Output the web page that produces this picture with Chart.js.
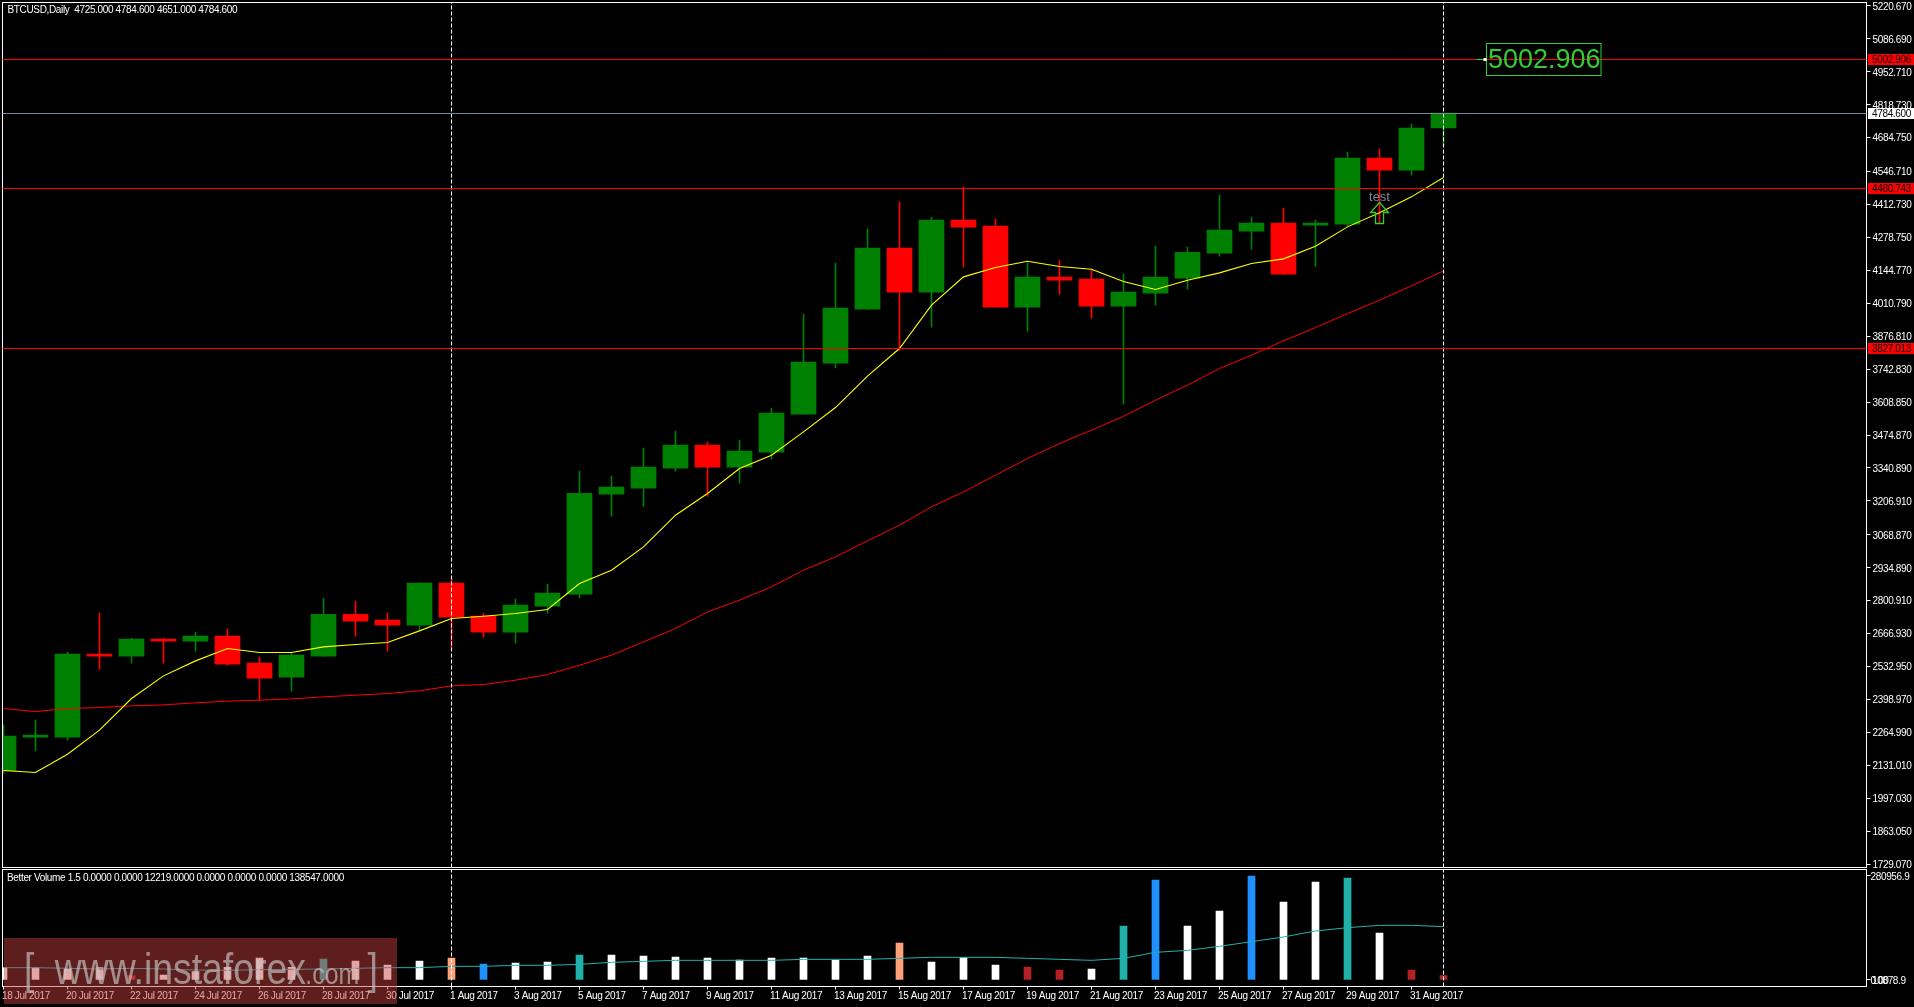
<!DOCTYPE html>
<html>
<head>
<meta charset="utf-8">
<title>BTCUSD Daily</title>
<script src="https://cdn.jsdelivr.net/npm/chart.js@4"></script>
<style>
  html, body { margin: 0; padding: 0; background: #000; overflow: hidden; }
  canvas { position: absolute; left: 0; top: 0; }
</style>
</head>
<body>
<canvas id="priceChart" width="1914" height="1007"></canvas>
<canvas id="volumeChart" width="1914" height="1007"></canvas>
<script>
// values
const opens = [2108.5,2245.5,2245.5,2583.2,2575.0,2644.2,2636.1,2656.4,2546.6,2489.6,2575.0,2745.9,2721.5,2701.2,2872.1,2737.8,2672.7,2778.5,2827.3,3234.2,3258.6,3340.0,3433.6,3344.1,3405.1,3559.7,3767.2,3986.9,4235.1,4056.1,4349.1,4324.6,3995.1,4117.1,4109.0,3999.1,4052.0,4113.1,4214.8,4304.3,4336.9,4328.7,4332.8,4601.3,4552.5,4725.0];
const highs = [2294.3,2314.7,2591.3,2750.0,2648.3,2648.3,2672.7,2684.9,2571.0,2587.3,2811.0,2798.8,2750.0,2872.1,2891.0,2750.0,2807.0,2868.0,3327.8,3307.4,3421.4,3490.5,3445.8,3453.9,3584.1,3966.6,4174.1,4312.4,4422.3,4361.3,4483.3,4353.1,4174.1,4186.3,4145.6,4129.3,4243.3,4239.2,4450.8,4361.3,4397.9,4349.1,4625.7,4638.0,4739.7,4784.6];
const lows = [2097.6,2189.9,2233.3,2522.1,2546.6,2546.6,2595.4,2538.4,2396.0,2432.6,2575.0,2656.4,2595.4,2680.8,2607.6,2652.4,2627.9,2750.0,2812.4,3144.7,3185.4,3327.8,3226.1,3279.0,3376.6,3559.7,3748.2,3986.9,3820.1,3913.7,4157.8,3995.1,3897.4,4048.0,3950.3,3600.4,4003.2,4068.3,4202.6,4231.0,4129.3,4161.9,4324.6,4335.5,4532.2,4651.0];
const closes = [2249.6,2253.6,2583.2,2575.0,2644.2,2636.1,2656.4,2542.5,2485.5,2579.1,2745.9,2717.5,2701.2,2872.1,2733.7,2672.7,2782.6,2831.4,3238.2,3262.7,3344.1,3433.6,3344.1,3409.2,3563.8,3771.3,3991.0,4235.1,4056.1,4349.1,4320.6,3995.1,4117.1,4104.9,3999.1,4056.1,4117.1,4218.8,4308.4,4336.9,4129.3,4336.9,4601.3,4552.5,4723.4,4784.6];
const fastMa = [2109.9,2101.7,2176.3,2274.0,2402.8,2495.0,2556.0,2606.3,2590.0,2590.0,2613.0,2622.5,2630.7,2678.1,2728.3,2737.8,2748.6,2764.9,2870.7,2924.9,3019.9,3148.7,3236.9,3338.6,3392.9,3487.8,3586.8,3714.3,3826.9,4003.2,4118.5,4156.5,4182.2,4160.5,4149.7,4099.5,4067.0,4104.9,4134.8,4172.7,4191.7,4243.3,4321.9,4378.9,4444.0,4522.7];
const slowMa = [2362.1,2349.9,2362.1,2366.2,2373.0,2377.0,2385.2,2392.0,2396.0,2401.4,2409.6,2416.4,2423.2,2434.0,2454.3,2459.8,2477.4,2500.4,2538.4,2579.1,2633.4,2687.6,2755.4,2802.9,2857.2,2925.0,2979.2,3044.3,3108.1,3182.6,3243.7,3311.5,3379.3,3440.3,3495.0,3551.5,3616.7,3677.7,3745.5,3799.8,3858.1,3912.3,3969.3,4023.5,4081.9,4142.9];
const volumes = [33319,33319,29717,33319,11707,13508,22513,34219,59433,34219,56732,51329,40523,51329,59433,43224,45926,48627,67538,67538,64836,62135,59433,54030,59433,59433,54030,64836,99956,48627,60334,40523,35120,27015,29717,145881,270150,145881,186404,280956,210717,264747,275553,126971,27015,12219];
const volumeKinds = ['normal','normal','normal','normal','low','normal','normal','normal','normal','normal','churn','normal','normal','normal','salmon','climax','normal','normal','churn','normal','normal','normal','normal','normal','normal','normal','normal','normal','salmon','normal','normal','normal','low','low','normal','churn','climax','normal','normal','climax','normal','normal','churn','normal','low','low'];
const volumeMa = [33319,33319,31518,29717,31518,29717,27015,26115,27916,28816,29717,31518,33319,33319,36921,36921,39622,39622,42324,47727,50428,53130,53130,53130,53130,55831,55831,55831,58533,61234,61234,61234,58533,55831,53130,58533,74742,80145,90951,103558,116165,132374,141379,147682,147682,144080];

const dateTicks = ['18 Jul 2017','20 Jul 2017','22 Jul 2017','24 Jul 2017','26 Jul 2017','28 Jul 2017','30 Jul 2017','1 Aug 2017','3 Aug 2017','5 Aug 2017','7 Aug 2017','9 Aug 2017','11 Aug 2017','13 Aug 2017','15 Aug 2017','17 Aug 2017','19 Aug 2017','21 Aug 2017','23 Aug 2017','25 Aug 2017','27 Aug 2017','29 Aug 2017','31 Aug 2017'];
const priceTicks = [5220.670,5086.690,4952.710,4818.730,4684.750,4546.710,4412.730,4278.750,4144.770,4010.790,3876.810,3742.830,3608.850,3474.870,3340.890,3206.910,3068.870,2934.890,2800.910,2666.930,2532.950,2398.970,2264.990,2131.010,1997.030,1863.050,1729.070];
const volumeTicks = [280956.9,0];
const priceLevels = [5002.906,4784.600,4480.743,3827.013];
const markedBars = [14,45];

const TEXT_FONT = '10px "Liberation Sans"';
const kindColors = { normal:'#ffffff', low:'#b22222', churn:'#20b2aa', climax:'#1e90ff', salmon:'#ffa07a' };
const levelColors = ['#ff0000','#778899','#ff0000','#ff0000'];
const tagFills = ['#ff0000','#ffffff','#ff0000','#ff0000'];

const xMin = -1 / 32, xMax = 1863 / 32;
const priceMin = 1715.3, priceMax = 5234.8;
const volMin = -17560, volMax = 298516;
const idx = closes.map((c, i) => i);

function upDown(i) {
  return closes[i] >= opens[i] ? '#008000' : '#ff0000';
}

// pixel row centre for a horizontal level
function levelRow(scale, value) {
  return Math.round(scale.getPixelForValue(value) - 0.3) + 0.5;
}

function xScale(show) {
  return {
    type: 'linear', display: show, min: xMin, max: xMax, offset: false,
    grid: { offset: false, drawOnChartArea: false, drawTicks: true, tickLength: 3, tickColor: '#fff' },
    border: { display: false },
    afterBuildTicks: s => { s.ticks = dateTicks.map((d, i) => ({ value: i * 2 })); },
    afterFit: s => { s.height = show ? 20.5 : 0; s.paddingLeft = 0; s.paddingRight = 0; },
    ticks: {
      autoSkip: false, maxRotation: 0, align: 'start', padding: 1, labelOffset: -1.5, color: '#fff', font: { family: 'Liberation Sans', size: 10 },
      callback: v => dateTicks[v / 2]
    }
  };
}

function yScale(min, max, values, fmt, pad) {
  return {
    type: 'linear', position: 'right', min: min, max: max,
    grid: { drawOnChartArea: false, drawTicks: true, tickLength: 4, tickColor: '#fff' },
    border: { display: false },
    afterBuildTicks: s => { s.ticks = values.map(v => ({ value: v })); },
    // labels may stick out of the panel, the plot area must not shrink for them
    afterFit: s => { s.width = 47.5; s.paddingTop = 0; s.paddingBottom = 0; },
    ticks: { autoSkip: false, padding: pad, labelOffset: 1, color: '#fff', font: { family: 'Liberation Sans', size: 10 }, callback: fmt }
  };
}

function vline(i, lo, hi) {
  return {
    type: 'line', order: 1, data: [{ x: i, y: lo }, { x: i, y: hi }],
    borderColor: '#fff', borderWidth: 1, borderDash: [4, 2], pointRadius: 0
  };
}

const frame = {
  id: 'frame',
  beforeDraw(chart) {
    // the terminal font is tighter than Liberation Sans at this height
    chart.ctx.letterSpacing = '-0.35px';
  },
  afterDraw(chart) {
    const a = chart.chartArea, c = chart.ctx;
    c.save();
    c.strokeStyle = '#fff';
    c.lineWidth = 1;
    c.strokeRect(a.left, a.top, a.right - a.left, a.bottom - a.top);
    c.restore();
  }
};

const priceNotes = {
  id: 'priceNotes',
  afterDraw(chart) {
    const c = chart.ctx, x = chart.scales.x, y = chart.scales.y, a = chart.chartArea;
    c.save();

    // horizontal levels, snapped to a pixel row so they stay sharp
    priceLevels.forEach((lv, i) => {
      const py = levelRow(y, lv);
      c.strokeStyle = levelColors[i];
      c.lineWidth = 1;
      c.beginPath();
      c.moveTo(a.left, py);
      c.lineTo(a.right, py);
      c.stroke();
    });

    c.font = TEXT_FONT;
    c.textBaseline = 'middle';
    c.fillStyle = '#fff';
    c.fillText('BTCUSD,Daily  4725.000 4784.600 4651.000 4784.600', 7.5, 10.5);

    // price tags on the axis
    priceLevels.forEach((lv, i) => {
      const py = levelRow(y, lv);
      c.fillStyle = tagFills[i];
      c.fillRect(1868, py - 5.5, 46, 11);
      c.fillStyle = '#000';
      c.fillText(lv.toFixed(3), 1872, py + 0.5);
    });

    // big label of the top level
    const ly = levelRow(y, priceLevels[0]);
    const lx = Math.round(x.getPixelForValue(46.3));
    c.letterSpacing = '0px';
    c.strokeStyle = '#32cd32';
    c.lineWidth = 1;
    c.strokeRect(lx + 1.5, ly - 16, 114.5, 32);
    c.beginPath();
    c.moveTo(lx - 9, ly);
    c.lineTo(lx - 1, ly);
    c.stroke();
    c.fillStyle = '#fff';
    c.fillRect(lx - 1.5, ly - 1.5, 3, 3);
    c.fillStyle = '#32cd32';
    c.font = '27px "Liberation Sans"';
    c.fillText('5002.906', lx + 3, ly + 1);

    // arrow and note on bar 43
    const ax = x.getPixelForValue(43);
    const ay = y.getPixelForValue(4335.6);
    c.beginPath();
    c.moveTo(ax - 4, ay);
    c.lineTo(ax + 4, ay);
    c.lineTo(ax + 4, ay - 11);
    c.lineTo(ax + 9, ay - 11);
    c.lineTo(ax, ay - 21);
    c.lineTo(ax - 9, ay - 11);
    c.lineTo(ax - 4, ay - 11);
    c.closePath();
    c.lineWidth = 1.3;
    c.stroke();
    c.fillStyle = '#778899';
    c.font = '13px "Liberation Sans"';
    c.textAlign = 'center';
    c.fillText('test', ax, ay - 26);
    c.restore();
  }
};

const volumeNotes = {
  id: 'volumeNotes',
  afterDraw(chart) {
    const c = chart.ctx, y = chart.scales.y;
    c.save();
    c.font = TEXT_FONT;
    c.textBaseline = 'middle';
    c.fillStyle = '#fff';
    c.fillText('Better Volume 1.5 0.0000 0.0000 12219.0000 0.0000 0.0000 0.0000 138547.0000', 7, 878.5);
    c.fillText('10878.9', 1872, y.getPixelForValue(0) + 1);

    // broker watermark
    c.letterSpacing = '0px';
    c.fillStyle = 'rgba(202,64,64,0.47)';
    c.fillRect(4, 938, 393, 66);
    c.fillStyle = 'rgba(200,200,200,0.65)';
    c.textBaseline = 'alphabetic';
    c.save();
    c.translate(24, 984);
    c.scale(0.83, 1);
    c.font = '45px "Liberation Sans"';
    c.fillText('[', 0, 0);
    c.fillText('www.instaforex', 37, 0);
    c.font = '30px "Liberation Sans"';
    c.fillText('.com', 339, 0);
    c.font = '45px "Liberation Sans"';
    c.fillText(']', 414, 0);
    c.restore();
    c.restore();
  }
};

new Chart(document.getElementById('priceChart'), {
  type: 'line',
  data: {
    datasets: [
      { type: 'bar', order: 6, grouped: false, barThickness: 1, data: idx.map(i => ({ x: i, y: [lows[i], highs[i]] })), backgroundColor: idx.map(upDown) },
      { type: 'bar', order: 5, grouped: false, barThickness: 25, data: idx.map(i => ({ x: i, y: [opens[i], closes[i]] })), backgroundColor: idx.map(upDown) },
      { order: 3, data: idx.map(i => ({ x: i, y: slowMa[i] })), borderColor: '#ff0000', borderWidth: 1, pointRadius: 0, tension: 0 },
      { order: 2, data: idx.map(i => ({ x: i, y: fastMa[i] })), borderColor: '#ffff00', borderWidth: 1.1, pointRadius: 0, tension: 0 },
      ...markedBars.map(i => vline(i, priceMin, priceMax))
    ]
  },
  options: {
    responsive: false, animation: false,
    layout: { autoPadding: false, padding: { left: 2.5, top: 2.5, right: 0, bottom: 139.5 } },
    plugins: { legend: { display: false }, tooltip: { enabled: false } },
    scales: { x: xScale(false), y: yScale(priceMin, priceMax, priceTicks, v => v.toFixed(3), 2) }
  },
  plugins: [frame, priceNotes]
});

new Chart(document.getElementById('volumeChart'), {
  type: 'line',
  data: {
    datasets: [
      { type: 'bar', order: 4, grouped: false, barThickness: 7, data: idx.map(i => ({ x: i, y: volumes[i] })), backgroundColor: idx.map(i => kindColors[volumeKinds[i]]) },
      { order: 3, data: idx.map(i => ({ x: i, y: volumeMa[i] })), borderColor: '#20b2aa', borderWidth: 1, pointRadius: 0, tension: 0 },
      ...markedBars.map(i => vline(i, volMin, volMax))
    ]
  },
  options: {
    responsive: false, animation: false,
    layout: { autoPadding: false, padding: { left: 2.5, top: 869.5, right: 0, bottom: 0 } },
    plugins: { legend: { display: false }, tooltip: { enabled: false } },
    scales: { x: xScale(true), y: yScale(volMin, volMax, volumeTicks, v => v === 0 ? '0.00' : v.toFixed(1), 0) }
  },
  plugins: [frame, volumeNotes]
});
</script>
</body>
</html>
